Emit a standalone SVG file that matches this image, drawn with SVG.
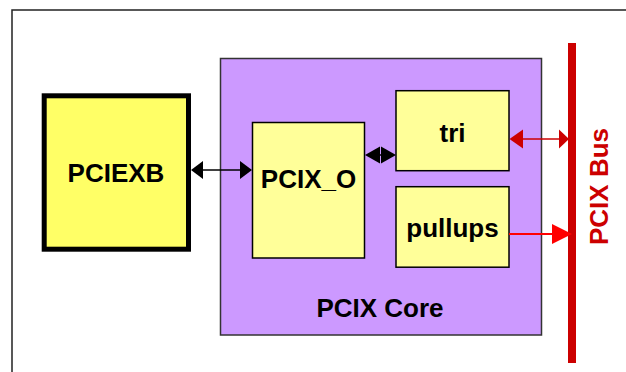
<svg xmlns="http://www.w3.org/2000/svg" width="626" height="372" viewBox="0 0 626 372">
<style>
.lbl{font-family:"Liberation Sans",Arial,sans-serif;font-weight:bold;font-size:26px;fill:#000;text-anchor:middle}
.box{fill:#FFFF99;stroke:#000;stroke-width:1.5}
</style>
<rect x="0" y="0" width="626" height="372" fill="#fff"/>
<rect id="frame" x="12" y="10" width="640" height="400" fill="none" stroke="#222" stroke-width="1.5"/>
<g id="pcix_core">
<rect x="220.5" y="58.5" width="321" height="276.5" fill="#CC99FF" stroke="#333" stroke-width="1.5"/>
<text class="lbl" x="380" y="317">PCIX Core</text>
</g>
<g id="pciexb">
<rect x="44.2" y="95.8" width="144.3" height="153.4" fill="#FFFF66" stroke="#000" stroke-width="5"/>
<text class="lbl" x="116" y="181.5">PCIEXB</text>
</g>
<g id="pcix_o">
<rect class="box" x="252.5" y="122.5" width="112" height="135.5"/>
<text class="lbl" x="308.5" y="188.3">PCIX_O</text>
</g>
<g id="tri">
<rect class="box" x="396" y="90.7" width="113" height="80"/>
<text class="lbl" x="452.5" y="141.7">tri</text>
</g>
<g id="pullups">
<rect class="box" x="396" y="186.7" width="113" height="80.5"/>
<text class="lbl" x="452.5" y="236.7">pullups</text>
</g>
<g id="pcix_bus">
<rect x="568" y="43" width="8" height="320" fill="#CC0000"/>
<text class="lbl" transform="translate(607.5,186.5) rotate(-90)" x="0" y="0" style="fill:#CC0000">PCIX Bus</text>
</g>
<g id="connectors">
<line x1="200" y1="170" x2="242" y2="170" stroke="#000" stroke-width="1.5"/>
<polygon points="191,170 203,161 203,179" fill="#000"/>
<polygon points="252,170 240,161 240,179" fill="#000"/>
<line x1="375" y1="155" x2="386" y2="155" stroke="#000" stroke-width="1.5"/>
<polygon points="365,155 380,146.5 380,163.5" fill="#000"/>
<polygon points="396,155 381,146.5 381,163.5" fill="#000"/>
<line x1="520" y1="139" x2="560" y2="139" stroke="#CC0000" stroke-width="1.5"/>
<polygon points="509.5,139 523,129.5 523,148.5" fill="#CC0000"/>
<polygon points="569,139 559,129.5 559,148.5" fill="#CC0000"/>
<line x1="509" y1="234" x2="555" y2="234" stroke="#FF0000" stroke-width="2"/>
<polygon points="572,234 552,224 552,244" fill="#FF0000"/>
</g>
</svg>
